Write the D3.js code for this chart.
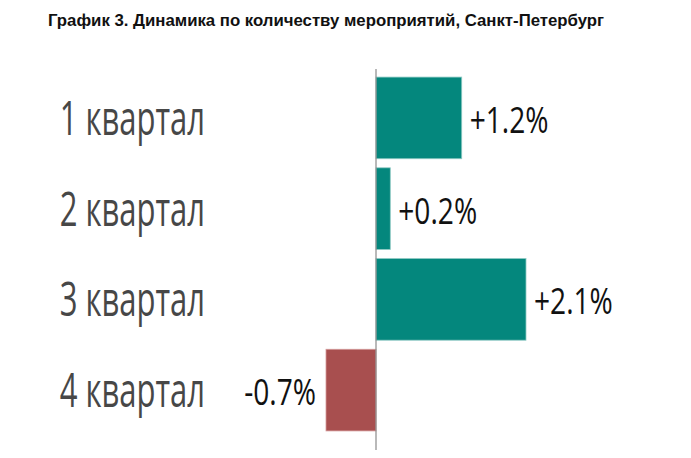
<!DOCTYPE html>
<html>
<head>
<meta charset="utf-8">
<script src="https://cdn.jsdelivr.net/npm/d3@7"></script>
<style>
  body { margin: 0; background: #fff; }
</style>
</head>
<body>
<div id="chart"></div>
<script>
// Data
const quarters = ["1 квартал", "2 квартал", "3 квартал", "4 квартал"];
const changes = [1.2, 0.2, 2.1, -0.7];
const valueLabels = ["+1.2%", "+0.2%", "+2.1%", "-0.7%"];

const width = 691;
const height = 458;

const svg = d3.select("#chart")
    .append("svg")
    .attr("width", width)
    .attr("height", height);

// Title
svg.append("text")
    .attr("x", 48)
    .attr("y", 26)
    .attr("textLength", 556)
    .attr("lengthAdjust", "spacingAndGlyphs")
    .style("font-family", "Liberation Sans, Arial, sans-serif")
    .style("font-weight", "bold")
    .style("font-size", "16px")
    .style("fill", "#111")
    .text("График 3. Динамика по количеству мероприятий, Санкт-Петербург");

// Scales
const x = d3.scaleLinear()
    .domain([-0.7, 2.1])
    .range([326, 526]);

const y = d3.scaleBand()
    .domain(quarters)
    .range([68, 440])
    .paddingInner(0.1)
    .paddingOuter(0.1);

const color = v => v >= 0 ? "#04877d" : "#a84f4f";
const edge = v => v >= 0 ? "#8fcac4" : "#d49a9a";

// Bars
svg.selectAll("rect.bar")
    .data(quarters)
    .enter()
    .append("rect")
    .attr("class", "bar")
    .attr("x", (d, i) => x(Math.min(0, changes[i])))
    .attr("y", d => y(d))
    .attr("width", (d, i) => Math.abs(x(changes[i]) - x(0)))
    .attr("height", y.bandwidth())
    .attr("fill", (d, i) => color(changes[i]))
    .attr("stroke", (d, i) => edge(changes[i]))
    .attr("stroke-width", 0.8);

// Zero line
svg.append("line")
    .attr("x1", x(0))
    .attr("x2", x(0))
    .attr("y1", 69)
    .attr("y2", 450)
    .attr("stroke", "#8a8a8a")
    .attr("stroke-width", 1.2);

// Category labels
svg.selectAll("text.cat")
    .data(quarters)
    .enter()
    .append("text")
    .attr("class", "cat")
    .attr("transform", d => `translate(205,${y(d) + y.bandwidth() / 2 + 17}) scale(0.66,1)`)
    .attr("text-anchor", "end")
    .style("font-family", "Open Sans, sans-serif")
    .style("font-size", "47px")
    .style("fill", "#474747")
    .text(d => d);

// Value labels
svg.selectAll("text.val")
    .data(quarters)
    .enter()
    .append("text")
    .attr("class", "val")
    .attr("transform", (d, i) => {
        const v = changes[i];
        const tx = v >= 0 ? x(v) + 8 : x(v) - 10;
        return `translate(${tx},${y(d) + y.bandwidth() / 2 + 15}) scale(0.76,1)`;
    })
    .attr("text-anchor", (d, i) => changes[i] >= 0 ? "start" : "end")
    .style("font-family", "Open Sans, sans-serif")
    .style("font-size", "37px")
    .style("fill", "#111")
    .text((d, i) => valueLabels[i]);
</script>
</body>
</html>
